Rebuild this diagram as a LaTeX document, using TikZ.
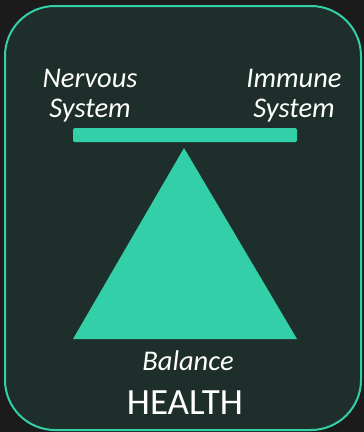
\documentclass[tikz,border=0pt]{standalone}
\usepackage{fontspec}
\setmainfont{Carlito}
\definecolor{bgdark}{HTML}{1B1B1B}
\definecolor{panel}{HTML}{1E2F2B}
\definecolor{teal}{HTML}{33CFA9}
\tikzset{
  lbl/.style={text=white, font=\fontsize{28.5}{30}\selectfont\itshape, align=center, inner sep=0pt},
  shapefill/.style={fill=teal, draw=none}
}
\begin{document}
\begin{tikzpicture}[x=1pt,y=-1pt]
\fill[bgdark] (0,0) rectangle (364,432);
\useasboundingbox (0,0) rectangle (364,432);
\draw[teal, line width=2pt, fill=panel, rounded corners=50pt] (5,6) rectangle (361,430);
\node[shapefill, rounded corners=1.5pt, minimum width=224pt, minimum height=14pt, inner sep=0pt] (bar) at (185,135) {};
\coordinate (apex) at (184,148);
\coordinate (bl) at (73,339);
\coordinate (br) at (297,339);
\fill[teal] (apex) -- (br) -- (bl) -- cycle;
\node[lbl, anchor=base] (nervous) at (90,117) {Nervous\\System};
\node[lbl, anchor=base] (immune) at (294,117) {Immune\\System};
\node[lbl, anchor=base] (balance) at (188,370) {Balance};
\node[text=white, font=\fontsize{37}{39}\selectfont, inner sep=0pt, anchor=base] (health) at (185,414) {HEALTH};
\end{tikzpicture}
\end{document}
